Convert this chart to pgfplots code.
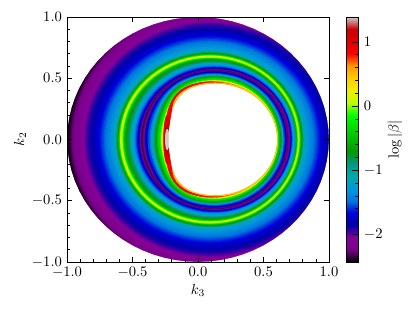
\documentclass[border=0pt]{standalone}
\usepackage{pgfplots}
\usepackage{pgfplotstable}
\pgfplotsset{compat=1.18}
\pgfplotstableread{
c s h e
1 0 .473 .482
.9962 .0872 .473 .482
.9848 .1736 .473 .482
.9659 .2588 .473 .482
.9397 .3420 .473 .482
.9063 .4226 .473 .482
.8660 .5 .473 .482
.8192 .5736 .473 .482
.7660 .6428 .473 .482
.7071 .7071 .473 .482
.6428 .7660 .473 .482
.5736 .8192 .473 .482
.5 .8660 .473 .482
.4226 .9063 .473 .482
.3420 .9397 .473 .482
.2588 .9659 .473 .482
.1736 .9848 .473 .482
.0872 .9962 .473 .482
0 1 .473 .482
-.0872 .9962 .473 .482
-.1736 .9848 .473 .482
-.2588 .9659 .473 .482
-.3420 .9397 .473 .482
-.4226 .9063 .471 .481
-.5 .8660 .466 .477
-.5736 .8192 .457 .471
-.6428 .7660 .446 .461
-.7071 .7071 .432 .446
-.7660 .6428 .417 .424
-.8192 .5736 .402 .402
-.8660 .5 .387 .385
-.9063 .4226 .376 .374
-.9397 .3420 .367 .365
-.9659 .2588 .362 .360
-.9848 .1736 .358 .356
-.9962 .0872 .356 .354
-1 0 .355 .353
-.9962 -.0872 .356 .354
-.9848 -.1736 .358 .356
-.9659 -.2588 .362 .360
-.9397 -.3420 .367 .365
-.9063 -.4226 .376 .374
-.8660 -.5 .387 .385
-.8192 -.5736 .402 .402
-.7660 -.6428 .417 .424
-.7071 -.7071 .432 .446
-.6428 -.7660 .446 .461
-.5736 -.8192 .457 .471
-.5 -.8660 .466 .477
-.4226 -.9063 .471 .481
-.3420 -.9397 .473 .482
-.2588 -.9659 .473 .482
-.1736 -.9848 .473 .482
-.0872 -.9962 .473 .482
0 -1 .473 .482
.0872 -.9962 .473 .482
.1736 -.9848 .473 .482
.2588 -.9659 .473 .482
.3420 -.9397 .473 .482
.4226 -.9063 .473 .482
.5 -.8660 .473 .482
.5736 -.8192 .473 .482
.6428 -.7660 .473 .482
.7071 -.7071 .473 .482
.7660 -.6428 .473 .482
.8192 -.5736 .473 .482
.8660 -.5 .473 .482
.9063 -.4226 .473 .482
.9397 -.3420 .473 .482
.9659 -.2588 .473 .482
.9848 -.1736 .473 .482
.9962 -.0872 .473 .482
1 0 .473 .482
}\unitring
\pgfplotstableread{
x y
1 0
.9962 .0872
.9848 .1736
.9659 .2588
.9397 .3420
.9063 .4226
.8660 .5
.8192 .5736
.7660 .6428
.7071 .7071
.6428 .7660
.5736 .8192
.5 .8660
.4226 .9063
.3420 .9397
.2588 .9659
.1736 .9848
.0872 .9962
0 1
-.0872 .9962
-.1736 .9848
-.2588 .9659
-.3420 .9397
-.4226 .9063
-.5 .8660
-.5736 .8192
-.6428 .7660
-.7071 .7071
-.7660 .6428
-.8192 .5736
-.8660 .5
-.9063 .4226
-.9397 .3420
-.9659 .2588
-.9848 .1736
-.9962 .0872
-1 0
-.9962 -.0872
-.9848 -.1736
-.9659 -.2588
-.9397 -.3420
-.9063 -.4226
-.8660 -.5
-.8192 -.5736
-.7660 -.6428
-.7071 -.7071
-.6428 -.7660
-.5736 -.8192
-.5 -.8660
-.4226 -.9063
-.3420 -.9397
-.2588 -.9659
-.1736 -.9848
-.0872 -.9962
0 -1
.0872 -.9962
.1736 -.9848
.2588 -.9659
.3420 -.9397
.4226 -.9063
.5 -.8660
.5736 -.8192
.6428 -.7660
.7071 -.7071
.7660 -.6428
.8192 -.5736
.8660 -.5
.9063 -.4226
.9397 -.3420
.9659 -.2588
.9848 -.1736
.9962 -.0872
1 0
1.3 0
1.3 -1.3
-1.3 -1.3
-1.3 1.3
1.3 1.3
1.3 0
}\diskmask
% contour: colormap position (0-1000), radii, centre
\newcommand{\ring}[4]{\addplot[forget plot,draw=none,fill,color of colormap={#1}] table[x expr={#4+#2*\thisrow{c}},y expr={#3*\thisrow{s}}]{\unitring};}
% contour blended towards the shape of the hole
\newcommand{\ringb}[4]{\addplot[forget plot,draw=none,fill,color of colormap={#1}] table[x expr={#3+#2*(1-#4+#4*\thisrow{h}/0.473)*\thisrow{c}},y expr={#2*(1-#4+#4*\thisrow{h}/0.473)*\thisrow{s}}]{\unitring};}
% edge band of the hole: blend between edge column and hole column
\newcommand{\ringe}[2]{\addplot[forget plot,draw=none,fill,color of colormap={#1}] table[x expr={.13+(#2*\thisrow{e}+(1-#2)*\thisrow{h})*\thisrow{c}},y expr={.965*(#2*\thisrow{e}+(1-#2)*\thisrow{h})*\thisrow{s}}]{\unitring};}
\pgfplotsset{
  colormap={nipy}{
    rgb=(0,0,0) rgb=(.4667,0,.5333) rgb=(.5333,0,.6) rgb=(0,0,.6667) rgb=(0,0,.8667)
    rgb=(0,.4667,.8667) rgb=(0,.6,.8667) rgb=(0,.6667,.6667) rgb=(0,.6,.5333) rgb=(0,.6,0)
    rgb=(0,.7333,0) rgb=(0,.8667,0) rgb=(0,1,0) rgb=(.7333,1,0) rgb=(.9333,.9333,0)
    rgb=(1,.8,0) rgb=(1,.6,0) rgb=(1,0,0) rgb=(.8667,0,0) rgb=(.8,0,0) rgb=(.8,.8,.8)
  }
}
\begin{document}
\begin{tikzpicture}
\useasboundingbox (-45.9pt,-32.9pt) rectangle ++(284.2pt,212.3pt);
\begin{axis}[
  scale only axis,width=179.4pt,height=167.8pt,
  xmin=-1,xmax=1,ymin=-1,ymax=1,
  axis on top,
  colormap name=nipy,
  point meta min=-2.43,point meta max=1.39,
  xtick={-1,-.5,0,.5,1},ytick={-1,-.5,0,.5,1},
  minor x tick num=4,minor y tick num=4,
  tick pos=left,tick align=inside,
  major tick length=3.6pt,minor tick length=2pt,
  every tick/.style={black,line width=.5pt},
  axis line style={line width=.6pt},
  ticklabel style={/pgf/number format/.cd,fixed,fixed zerofill,precision=1},
  xlabel={$k_3$},ylabel={$k_2$},
  xlabel style={yshift=2.6pt},
  ylabel style={yshift=-3pt},
  colorbar,
  colorbar shift/.style={xshift=2pt},
  colorbar style={
    width=8.7pt,
    ytick={-2,-1,0,1},minor y tick num=4,
    tick pos=right,tick align=inside,
    major tick length=4.4pt,minor tick length=2.6pt,
    every tick/.style={black,line width=.5pt},
    axis line style={line width=.6pt},
    ticklabel style={/pgf/number format/.cd,fixed,precision=0},
    yticklabel pos=right,
    ylabel={$\log|\beta|$},ylabel style={yshift=3.4pt},
  },
]
\ring{0}{1.10}{1.10}{.09}
\ring{8}{1.085}{1.085}{.09}
\ring{20}{1.075}{1.075}{.09}
\ring{32}{1.065}{1.065}{.09}
\ring{44}{1.055}{1.055}{.09}
\ring{54}{1.045}{1.045}{.09}
\ring{64}{1.03}{1.03}{.09}
\ring{72}{1.015}{1.015}{.09}
\ring{80}{1.00}{1.00}{.09}
\ring{90}{.985}{.985}{.09}
\ring{98}{.975}{.975}{.09}
\ring{104}{.965}{.965}{.09}
\ring{110}{.957}{.957}{.09}
\ring{118}{.95}{.95}{.09}
\ring{124}{.945}{.945}{.09}
\ring{130}{.94}{.94}{.09}
\ring{137}{.93}{.93}{.09}
\ring{144}{.92}{.92}{.09}
\ring{152}{.905}{.905}{.09}
\ring{160}{.89}{.89}{.09}
\ring{170}{.88}{.88}{.09}
\ring{180}{.87}{.87}{.09}
\ring{190}{.86}{.86}{.09}
\ring{200}{.85}{.85}{.09}
\ring{210}{.84}{.84}{.09}
\ring{220}{.83}{.83}{.09}
\ring{230}{.82}{.82}{.09}
\ring{240}{.81}{.81}{.09}
\ring{250}{.80}{.80}{.09}
\ring{260}{.79}{.79}{.09}
\ring{270}{.78}{.78}{.09}
\ring{280}{.77}{.77}{.09}
\ring{290}{.76}{.76}{.09}
\ring{300}{.752}{.752}{.09}
\ring{310}{.745}{.745}{.09}
\ring{320}{.737}{.737}{.09}
\ring{330}{.73}{.73}{.09}
\ring{350}{.722}{.722}{.09}
\ring{380}{.716}{.716}{.09}
\ring{420}{.712}{.712}{.09}
\ring{450}{.706}{.706}{.09}
\ring{480}{.700}{.700}{.09}
\ring{530}{.695}{.695}{.09}
\ring{600}{.690}{.690}{.09}
\ring{660}{.685}{.685}{.09}
\ring{700}{.681}{.681}{.09}
\ring{730}{.677}{.677}{.09}
\ring{650}{.673}{.673}{.092}
\ring{600}{.669}{.669}{.093}
\ring{530}{.664}{.664}{.094}
\ring{480}{.658}{.658}{.096}
\ring{450}{.650}{.650}{.098}
\ring{430}{.644}{.644}{.102}
\ring{400}{.637}{.637}{.110}
\ring{350}{.628}{.628}{.115}
\ring{300}{.62}{.62}{.12}
\ring{250}{.604}{.604}{.12}
\ring{225}{.596}{.596}{.122}
\ring{200}{.590}{.590}{.125}
\ring{170}{.582}{.582}{.128}
\ring{140}{.578}{.578}{.13}
\ring{110}{.575}{.575}{.13}
\ringb{70}{.573}{.125}{.05}
\ringb{40}{.570}{.122}{.08}
\ringb{20}{.567}{.12}{.1}
\ringb{40}{.564}{.12}{.14}
\ringb{70}{.562}{.12}{.17}
\ringb{110}{.560}{.12}{.19}
\ringb{150}{.557}{.12}{.22}
\ringb{190}{.552}{.12}{.26}
\ringb{230}{.543}{.12}{.28}
\ringb{270}{.535}{.12}{.34}
\ringb{310}{.531}{.12}{.39}
\ringb{350}{.527}{.12}{.43}
\ringb{400}{.522}{.12}{.48}
\ringb{450}{.516}{.12}{.53}
\ringb{500}{.51}{.12}{.58}
\ringb{550}{.50}{.12}{.60}
\ringb{600}{.49}{.12}{.65}
\ringb{650}{.484}{.125}{.64}
\ringb{700}{.48}{.13}{.62}
\ringb{760}{.478}{.125}{.70}
\ringb{800}{.476}{.115}{.80}
\ringb{830}{.474}{.105}{.90}
\ringb{860}{.472}{.10}{.95}
\ring{900}{.03}{.20}{-.235}
\ring{950}{.02}{.12}{-.235}
\ring{1000}{.017}{.085}{-.235}
\ringe{720}{1}
\ringe{790}{.5}
\addplot[forget plot,draw=none,fill=white] table[x expr={.13+\thisrow{h}*\thisrow{c}},y expr={.962*\thisrow{h}*\thisrow{s}}]{\unitring};
\addplot[forget plot,draw=none,fill=white] table[x=x,y=y]{\diskmask};
\end{axis}
\begin{axis}[
  scale only axis,width=179.4pt,height=167.8pt,
  xmin=-1,xmax=1,ymin=-1,ymax=1,
  xtick={-1,-.5,0,.5,1},ytick={-1,-.5,0,.5,1},
  xticklabels={},yticklabels={},
  xtick pos=right,ytick pos=right,tick align=inside,
  major tick length=3.6pt,
  every tick/.style={black,line width=.5pt},
  axis line style={line width=.6pt},
]
\end{axis}
\end{tikzpicture}
\end{document}
